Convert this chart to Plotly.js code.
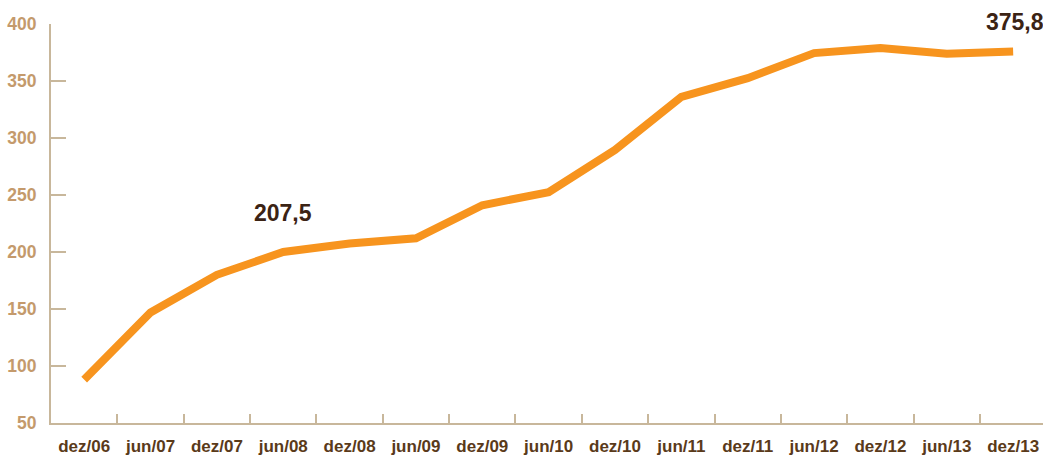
<!DOCTYPE html>
<html>
<head>
<meta charset="utf-8">
<script src="https://cdn.plot.ly/plotly-3.0.1.min.js"></script>
<style>html,body{margin:0;padding:0;background:#fff;}#chart{width:1043px;height:459px;}</style>
</head>
<body>
<div id="chart"></div>
<script>
const categories = ["dez/06","jun/07","dez/07","jun/08","dez/08","jun/09","dez/09","jun/10","dez/10","jun/11","dez/11","jun/12","dez/12","jun/13","dez/13"];
const values = [88, 147, 180, 200, 207.5, 212, 241, 252.5, 289.5, 336, 352.5, 374.5, 379, 374, 375.8];
const yTicks = [50, 100, 150, 200, 250, 300, 350, 400];
const labelTexts = ["207,5", "375,8"];
const labelCats = ["jun/08", "dez/13"];
const labelVals = [207.5, 375.8];

const axisColor = "#c8b79b";
const trace = {
  x: categories, y: values, type: "scatter", mode: "lines",
  line: {color: "#f7941e", width: 8},
  hoverinfo: "skip", cliponaxis: false
};
const layout = {
  width: 1043, height: 459,
  margin: {l: 51, r: 0, t: 24, b: 36},
  paper_bgcolor: "#fff", plot_bgcolor: "#fff",
  showlegend: false,
  font: {family: "Liberation Sans, Arial, sans-serif"},
  xaxis: {
    type: "category", range: [-0.5, 14.45], tickson: "boundaries",
    tickvals: categories, ticktext: categories.map(c => "<b>" + c + "</b>"),
    ticks: "inside", ticklen: 9, tickwidth: 2, tickcolor: axisColor,
    showline: true, linecolor: axisColor, linewidth: 2, showgrid: false, zeroline: false,
    tickfont: {size: 17, color: "#5a3a1a", family: "Liberation Sans, Arial, sans-serif"},
    ticklabelstandoff: 7
  },
  yaxis: {
    range: [50, 400], tickvals: yTicks, ticktext: yTicks.map(v => "<b>" + v + "</b>"),
    ticks: "inside", ticklen: 15, tickwidth: 2, tickcolor: axisColor,
    showline: true, linecolor: axisColor, linewidth: 2, showgrid: false, zeroline: false,
    tickfont: {size: 17.5, color: "#c49a6c", family: "Liberation Sans, Arial, sans-serif"},
    ticklabelstandoff: 9
  },
  annotations: [
    {x: labelCats[0], y: labelVals[0], xref: "x", yref: "y", text: "<b>" + labelTexts[0] + "</b>", showarrow: false,
     yshift: 30, font: {size: 23, color: "#3b2314"}},
    {x: labelCats[1], y: labelVals[1], xref: "x", yref: "y", text: "<b>" + labelTexts[1] + "</b>", showarrow: false,
     yshift: 30, xshift: 2, font: {size: 23, color: "#3b2314"}}
  ]
};
Plotly.newPlot("chart", [trace], layout, {displayModeBar: false, staticPlot: true});
</script>
</body>
</html>
